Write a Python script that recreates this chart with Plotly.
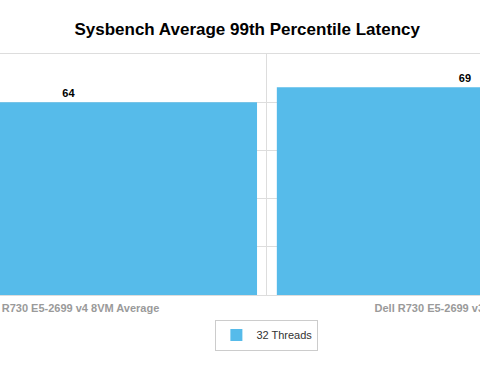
import plotly.graph_objects as go

categories = ["Dell R730 E5-2699 v4 8VM Average", "Dell R730 E5-2699 v3 8VM Average"]
series_name = "32 Threads"
values = [64, 69]
positions = [0, 1]

fig = go.Figure()
fig.add_trace(go.Bar(
    x=positions, y=values, name=series_name,
    marker=dict(color="#56bbea", line=dict(width=0)),
    width=0.95,
    texttemplate="<b>%{y}</b>", textposition="outside",
    textfont=dict(family="Liberation Sans, Arial, sans-serif", size=11, color="#000"),
    cliponaxis=False,
    showlegend=True,
))

fig.update_layout(
    width=480, height=379,
    margin=dict(l=0, r=0, t=54, b=84, autoexpand=False),
    paper_bgcolor="white", plot_bgcolor="white",
    font=dict(family="Liberation Sans, Arial, sans-serif"),
    title=dict(text="<b>Sysbench Average 99th Percentile Latency</b>",
               x=0.515, xanchor="center", y=0.923, yanchor="middle",
               font=dict(size=17, color="#000")),
    bargap=0.05,
    xaxis=dict(
        range=[-0.174, 1.038],
        tickmode="array", tickvals=positions,
        ticktext=["<b>%s</b>" % c for c in categories],
        tickfont=dict(size=11, color="#9a9a9a"),
        ticklabeloverflow="allow", automargin=False,
        showgrid=False, zeroline=False,
        showline=True, mirror=True, linecolor="#dddddd", linewidth=1,
        ticks="", ticklabelstandoff=3,
        minor=dict(tickmode="array", tickvals=[-0.5, 0.5, 1.5], showgrid=True,
                   gridcolor="#dddddd", gridwidth=1, ticks=""),
        fixedrange=True,
    ),
    yaxis=dict(
        range=[0, 80], dtick=16, showticklabels=False, automargin=False,
        showgrid=True, gridcolor="#dddddd", gridwidth=1,
        zeroline=False, fixedrange=True,
    ),
    legend=dict(
        orientation="h", x=0.556, xanchor="center", y=-0.166, yanchor="middle",
        bordercolor="#cccccc", borderwidth=1, itemwidth=30,
        font=dict(size=11, color="#333"),
    ),
)

fig.write_html("out.html", config={"displayModeBar": False},
               post_script="document.body.style.margin='0';document.body.style.overflow='hidden';")
